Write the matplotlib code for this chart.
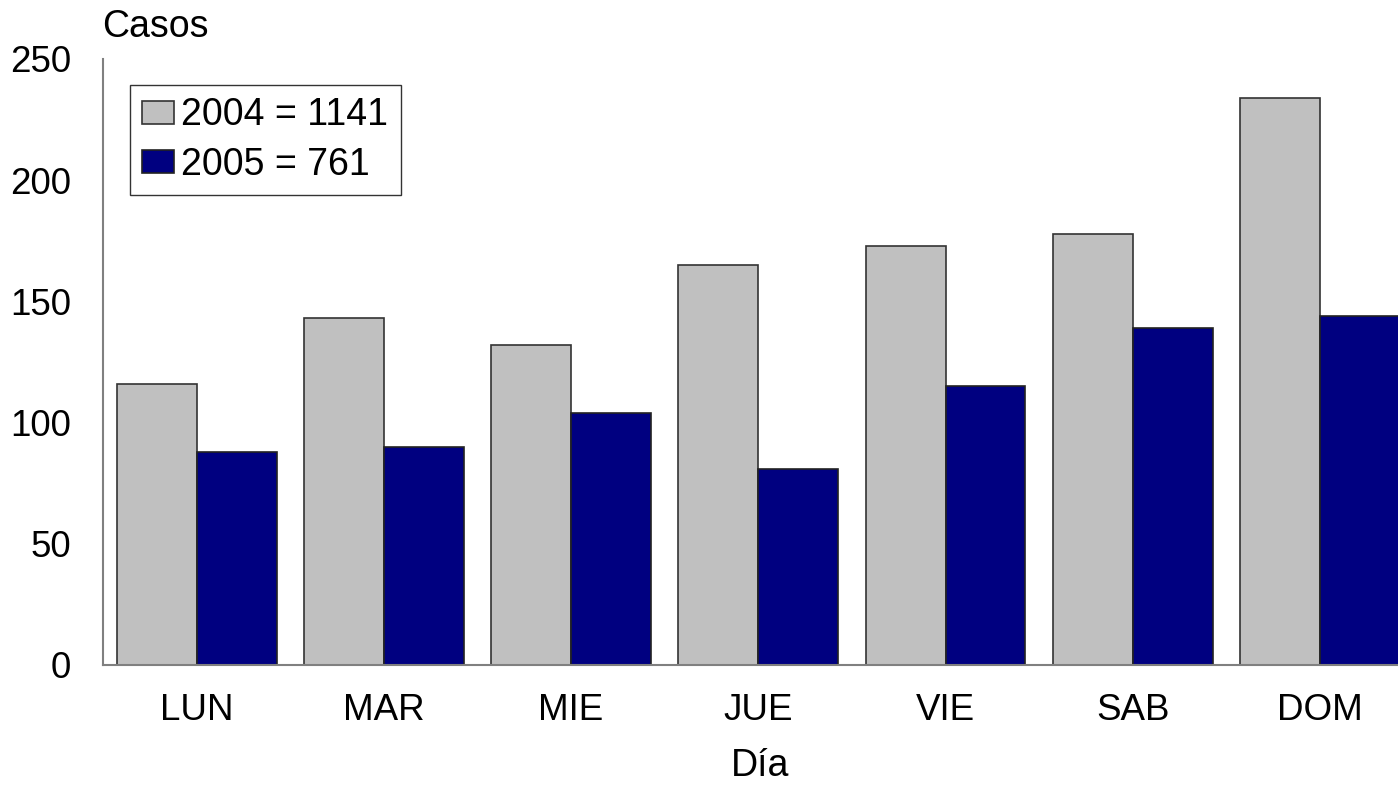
import matplotlib
matplotlib.use("Agg")
import matplotlib.pyplot as plt
import numpy as np

days = ["LUN", "MAR", "MIE", "JUE", "VIE", "SAB", "DOM"]
cases_2004 = [116, 143, 132, 165, 173, 178, 234]
cases_2005 = [88, 90, 104, 81, 115, 139, 144]
labels = ["2004 = 1141", "2005 = 761"]
yticks = [0, 50, 100, 150, 200, 250]

plt.rcParams['font.family'] = ['Liberation Sans', 'DejaVu Sans']

W, H = 1398, 785
fig = plt.figure(figsize=(W / 100, H / 100), dpi=100)
ax = fig.add_axes([103 / W, (H - 665) / H, (1413.6 - 103) / W, (665 - 59) / H])

x = np.arange(len(days))
bw = 0.427
ax.bar(x - bw / 2, cases_2004, width=bw, color="#C0C0C0", edgecolor="#333333",
       linewidth=1.2, label=labels[0])
ax.bar(x + bw / 2, cases_2005, width=bw, color="#000080", edgecolor="#222222",
       linewidth=1.2, label=labels[1])

ax.set_xlim(-0.5, len(days) - 0.5)
ax.set_ylim(0, 250)
ax.set_yticks(yticks)
ax.set_yticklabels([str(t) for t in yticks])
ax.set_xticks(x)
ax.set_xticklabels(days)
ax.tick_params(axis="y", length=0, pad=23, labelsize=26.5)
ax.tick_params(axis="x", length=0, pad=20, labelsize=26.5)

for s in ["top", "right"]:
    ax.spines[s].set_visible(False)
for s in ["left", "bottom"]:
    ax.spines[s].set_color("#808080")
    ax.spines[s].set_linewidth(1.5)

fig.text(102 / W, 1 - 37 / H, "Casos", fontsize=27, ha="left", va="baseline")
fig.text(760 / W, 1 / H, "Día", fontsize=27, ha="center", va="bottom")

leg = ax.legend(loc="upper left", bbox_to_anchor=((130 - 103) / (1413.6 - 103), (665 - 85) / (665 - 59)),
                fontsize=27, frameon=True, fancybox=False, edgecolor="#000000",
                borderpad=0.33, handlelength=0.85, handleheight=0.56, handletextpad=0.19,
                labelspacing=0.36, borderaxespad=0)
leg.get_frame().set_linewidth(1.0)

fig.savefig("out.png", dpi=100)
